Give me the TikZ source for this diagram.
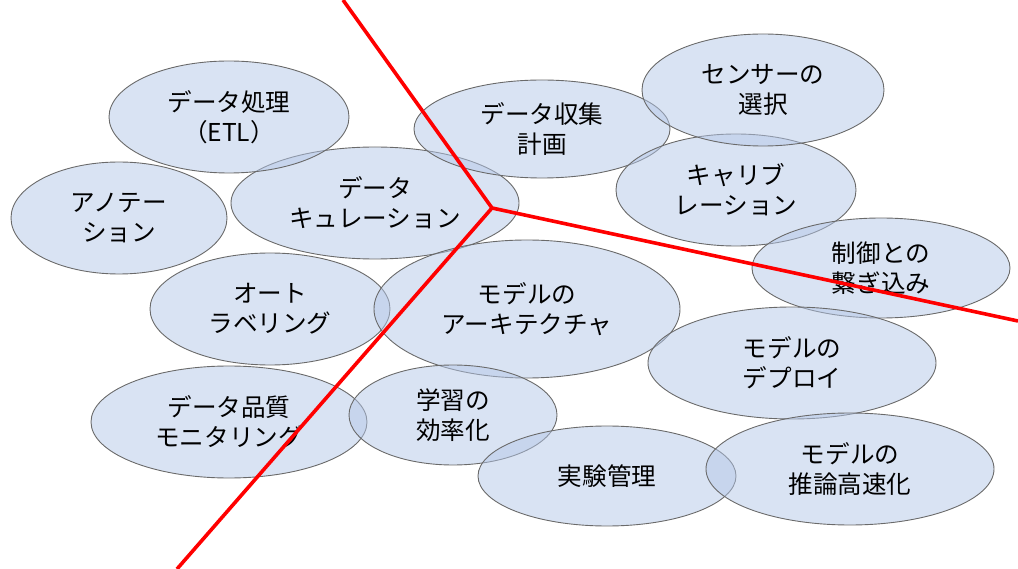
\documentclass[tikz,border=0pt]{standalone}
\usepackage{fontspec}
\setmainfont{Noto Sans CJK JP}
\usepackage{tikz}
\usetikzlibrary{shapes.geometric}
\definecolor{topicfill}{HTML}{B4C7E7}
\definecolor{topicline}{HTML}{6A6A6A}
\tikzset{>=latex}
\tikzset{topic/.style={ellipse, draw=topicline, line width=0.9pt, fill=topicfill, fill opacity=0.5, text opacity=1, align=center, inner sep=0pt, font=\fontsize{24.6}{30}\selectfont}}
\tikzset{border/.style={draw=red, line width=3.6pt, line join=round}}

\begin{document}
\begin{tikzpicture}[x=1pt, y=-1pt]
    \useasboundingbox (0,0) rectangle (1018,569);
    % data side
    \node[topic, minimum width=216, minimum height=112] (anno) at (119,218) {アノテー\\ション};
    \node[topic, minimum width=288, minimum height=112] (cur) at (375,203) {データ\\キュレーション};
    \node[topic, minimum width=240, minimum height=112] (etl) at (229,117) {データ処理\\（ETL）};
    \node[topic, minimum width=240, minimum height=112] (auto) at (270,309) {オート\\ラベリング};
    \node[topic, minimum width=276, minimum height=112] (quality) at (229,422) {データ品質\\モニタリング};
    % sensing side
    \node[topic, minimum width=256, minimum height=98] (collect) at (542,129) {データ収集\\計画};
    \node[topic, minimum width=240, minimum height=112] (calib) at (736,190) {キャリブ\\レーション};
    \node[topic, minimum width=242, minimum height=112] (sensor) at (763,90) {センサーの\\選択};
    \node[topic, minimum width=258, minimum height=100] (ctrl) at (881,268) {制御との\\繋ぎ込み};
    % model side
    \node[topic, minimum width=306, minimum height=138] (arch) at (527,309) {モデルの\\アーキテクチャ};
    \node[topic, minimum width=208, minimum height=100] (train) at (453,415) {学習の\\効率化};
    \node[topic, minimum width=288, minimum height=112] (deploy) at (792,363) {モデルの\\デプロイ};
    \node[topic, minimum width=258, minimum height=100] (exp) at (607,476) {実験管理};
    \node[topic, minimum width=288, minimum height=112] (infer) at (850,469) {モデルの\\推論高速化};
    % dividing lines
    \coordinate (hub) at (492,208);
    \coordinate (top) at (343,0);
    \coordinate (right) at (1018,321);
    \coordinate (bottom) at (177,569);
    \draw[border] (top) -- (hub) -- (right);
    \draw[border] (hub) -- (bottom);
\end{tikzpicture}
\end{document}
